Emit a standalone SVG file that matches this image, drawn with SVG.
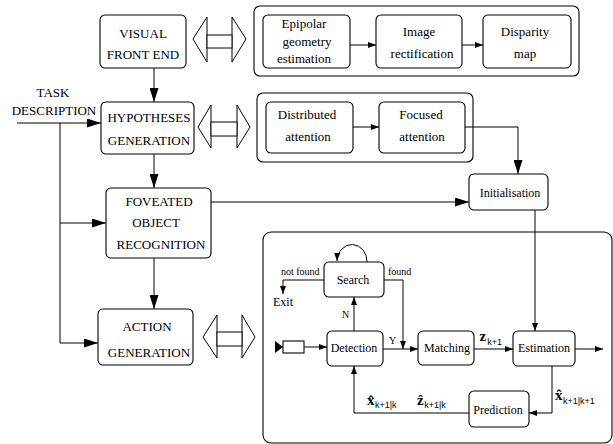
<svg xmlns="http://www.w3.org/2000/svg" width="613" height="444" viewBox="0 0 613 444">
<style>
.box{fill:#fff;stroke:#000;stroke-width:1.1}
.panel{fill:none;stroke:#000;stroke-width:1.1}
.dbl{fill:#fff;stroke:#000;stroke-width:1}
.ln{fill:none;stroke:#000;stroke-width:1}
.t{font-family:"Liberation Serif","Times New Roman",serif;font-size:13px;fill:#000;text-anchor:middle}
.s{font-family:"Liberation Serif","Times New Roman",serif;font-size:12px;fill:#000;text-anchor:middle}
.l{font-family:"Liberation Serif","Times New Roman",serif;font-size:10px;fill:#000}
.v{font-family:"Liberation Serif","Times New Roman",serif;font-size:15px;font-weight:bold;fill:#000}
.sub{font-family:"Liberation Sans",Arial,sans-serif;font-size:9px;font-weight:normal}
</style>
<defs>
<marker id="big" markerWidth="14" markerHeight="9" refX="14" refY="4.5" orient="auto" markerUnits="userSpaceOnUse"><path d="M0,0 L14,4.5 L0,9 z" fill="#000"/></marker>
<marker id="sm" markerWidth="8" markerHeight="6" refX="8" refY="3" orient="auto" markerUnits="userSpaceOnUse"><path d="M0,0 L8,3 L0,6 z" fill="#000"/></marker>
</defs>
<rect width="613" height="444" fill="#fff"/>

<!-- panels -->
<rect class="panel" x="254" y="6" width="325" height="70" rx="6"/>
<rect class="panel" x="257" y="93" width="216" height="69" rx="6"/>
<rect class="panel" x="263" y="232" width="349" height="211" rx="8"/>

<!-- double arrows -->
<g id="dbl1">
<polygon class="dbl" points="193,39 207,17 207,62"/>
<polygon class="dbl" points="246,39 232,17 232,62"/>
<rect class="dbl" x="207" y="35" width="25" height="13"/>
</g>
<g id="dbl2">
<polygon class="dbl" points="198,127 211,105 211,148"/>
<polygon class="dbl" points="250,127 237,105 237,148"/>
<rect class="dbl" x="211" y="122" width="26" height="14"/>
</g>
<g id="dbl3">
<polygon class="dbl" points="203,337 217,315 217,358"/>
<polygon class="dbl" points="255,337 242,315 242,358"/>
<rect class="dbl" x="217" y="332" width="25" height="14"/>
</g>

<!-- connectors -->
<g id="connectors">
<path class="ln" d="M154,68 V102" marker-end="url(#big)"/>
<path class="ln" d="M17,123 H101" marker-end="url(#big)"/>
<path class="ln" d="M60,123 V343 H98" marker-end="url(#big)"/>
<path class="ln" d="M60,223 H106" marker-end="url(#big)"/>
<path class="ln" d="M154,154 V188" marker-end="url(#big)"/>
<path class="ln" d="M154,258 V309" marker-end="url(#big)"/>
<path class="ln" d="M211,202 H469" marker-end="url(#big)"/>
<path class="ln" d="M350,45 H376" marker-end="url(#sm)"/>
<path class="ln" d="M462,45 H483" marker-end="url(#sm)"/>
<path class="ln" d="M353,127 H379" marker-end="url(#sm)"/>
<path class="ln" d="M465,127 H518 V174" marker-end="url(#big)"/>
<path class="ln" d="M535,210 V331" marker-end="url(#sm)"/>
<path class="ln" d="M304,347 H327" marker-end="url(#sm)"/>
<path class="ln" d="M383,349 H418" marker-end="url(#sm)"/>
<path class="ln" d="M474,349 H513" marker-end="url(#sm)"/>
<path class="ln" d="M575,349 H603" marker-end="url(#sm)"/>
<path class="ln" d="M354,331 V297" marker-end="url(#sm)"/>
<path class="ln" d="M384,280 H403 V349" marker-end="url(#sm)"/>
<path class="ln" d="M324,280 H283 V294" marker-end="url(#sm)"/>
<path class="ln" d="M367,262 A15,17 0 0 0 337,261" marker-end="url(#sm)"/>
<path class="ln" d="M552,366 V413 H529" marker-end="url(#sm)"/>
<path class="ln" d="M469,413 H354 V366" marker-end="url(#sm)"/>
</g>

<!-- left column nodes -->
<g id="visual">
<rect class="box" x="100" y="15" width="86" height="53" rx="5"/>
<text class="t" x="143" y="37.5">VISUAL</text>
<text class="t" x="143" y="59">FRONT END</text>
</g>
<g id="task">
<text class="t" x="53" y="97">TASK</text>
<text class="t" x="54" y="115">DESCRIPTION</text>
</g>
<g id="hypo">
<rect class="box" x="101" y="102" width="93" height="52" rx="5"/>
<text class="t" x="149" y="122">HYPOTHESES</text>
<text class="t" x="149" y="145">GENERATION</text>
</g>
<g id="foveated">
<rect class="box" x="106" y="188" width="105" height="70" rx="5"/>
<text class="t" x="159" y="206">FOVEATED</text>
<text class="t" x="156" y="227">OBJECT</text>
<text class="t" x="161" y="249">RECOGNITION</text>
</g>
<g id="action">
<rect class="box" x="98" y="309" width="95" height="56" rx="5"/>
<text class="t" x="147" y="331">ACTION</text>
<text class="t" x="149" y="357">GENERATION</text>
</g>

<!-- top panel -->
<g id="epipolar">
<rect class="box" x="263" y="15" width="87" height="53" rx="5"/>
<text class="t" x="304" y="28">Epipolar</text>
<text class="t" x="307" y="46">geometry</text>
<text class="t" x="304" y="63">estimation</text>
</g>
<g id="image">
<rect class="box" x="376" y="15" width="86" height="53" rx="5"/>
<text class="t" x="419" y="36">Image</text>
<text class="t" x="422" y="58">rectification</text>
</g>
<g id="disparity">
<rect class="box" x="483" y="15" width="88" height="53" rx="5"/>
<text class="t" x="525" y="36">Disparity</text>
<text class="t" x="525" y="58">map</text>
</g>

<!-- attention panel -->
<g id="distributed">
<rect class="box" x="266" y="102" width="87" height="51" rx="5"/>
<text class="t" x="307" y="119">Distributed</text>
<text class="t" x="308" y="141">attention</text>
</g>
<g id="focused">
<rect class="box" x="379" y="102" width="86" height="51" rx="5"/>
<text class="t" x="421" y="119">Focused</text>
<text class="t" x="422" y="141">attention</text>
</g>
<g id="init">
<rect class="box" x="469" y="174" width="79" height="36" rx="5"/>
<text class="s" x="510" y="197">Initialisation</text>
</g>

<!-- tracking panel -->
<g id="input">
<polygon points="275,341 283,347 275,353" fill="#000"/>
<rect class="box" x="283" y="341" width="21" height="12"/>
</g>
<g id="search">
<rect class="box" x="324" y="262" width="60" height="35" rx="5"/>
<text class="s" x="353" y="284">Search</text>
</g>
<g id="detection">
<rect class="box" x="327" y="331" width="56" height="35" rx="5"/>
<text class="s" x="354" y="352">Detection</text>
</g>
<g id="matching">
<rect class="box" x="418" y="331" width="56" height="34" rx="5"/>
<text class="s" x="447" y="352">Matching</text>
</g>
<g id="estimation">
<rect class="box" x="513" y="331" width="62" height="35" rx="5"/>
<text class="s" x="544" y="352">Estimation</text>
</g>
<g id="prediction">
<rect class="box" x="469" y="391" width="60" height="36" rx="5"/>
<text class="s" x="498" y="414">Prediction</text>
</g>

<!-- labels -->
<g id="labels">
<text class="l" x="281" y="275">not found</text>
<text class="l" x="388" y="275">found</text>
<text class="s" x="283" y="306">Exit</text>
<text class="l" x="342" y="318">N</text>
<text class="l" x="389" y="344">Y</text>
<text class="v" x="479.5" y="341">z<tspan class="sub" dx="1" dy="3.5">k+1</tspan></text>
<text class="v" x="367" y="405">x&#x302;<tspan class="sub" dx="0.5" dy="2.5">k+1|k</tspan></text>
<text class="v" x="417" y="405">z&#x302;<tspan class="sub" dx="0.5" dy="2.5">k+1|k</tspan></text>
<text class="v" x="555" y="399.5">x&#x302;<tspan class="sub" dx="0.5" dy="4.5">k+1|k+1</tspan></text>
</g>
</svg>
